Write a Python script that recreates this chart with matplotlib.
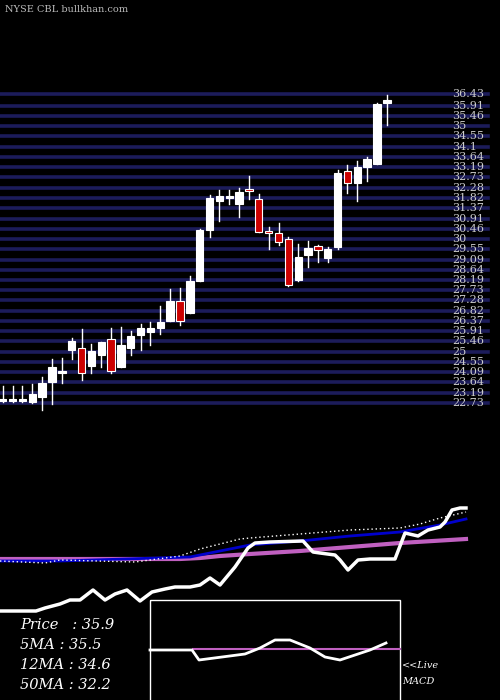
import matplotlib
matplotlib.use("Agg")
import matplotlib.pyplot as plt
import numpy as np

opens  = [22.82,22.82,22.82,22.77,23.00,23.66,24.06,25.08,25.17,24.37,24.86,25.57,24.33,25.17,25.74,25.88,26.06,26.37,27.25,26.72,
          28.14,30.40,31.69,31.82,31.55,32.22,31.78,30.36,30.27,30.00,28.18,29.29,29.69,29.16,29.65,33.02,32.48,33.19,33.33,36.03]
highs  = [23.48,23.48,23.48,23.57,23.88,24.68,24.73,25.61,26.01,25.35,25.43,26.06,26.10,25.92,26.23,26.32,27.03,27.78,27.83,28.36,
          30.45,31.95,32.17,32.17,32.27,32.80,32.00,30.53,30.71,30.09,29.78,29.91,29.74,29.65,33.06,33.28,33.46,33.64,36.03,36.39]
lows   = [22.77,22.77,22.77,22.73,22.42,22.69,23.62,24.68,23.75,24.06,24.33,24.06,24.33,24.86,25.08,25.30,25.79,26.37,26.19,26.72,
          28.14,30.09,30.80,31.55,30.98,31.78,30.31,29.56,29.74,27.92,28.14,28.76,28.98,28.98,29.56,32.04,31.69,32.57,33.33,35.06]
closes = [22.91,22.91,22.91,23.13,23.62,24.33,24.15,25.48,24.06,25.04,25.43,24.15,25.30,25.70,26.06,26.06,26.32,27.25,26.37,28.14,
          30.40,31.82,31.91,31.91,32.09,32.13,30.31,30.27,29.87,27.96,29.20,29.60,29.51,29.56,32.93,32.48,33.19,33.55,35.99,36.16]

price_levels = [36.43,35.91,35.46,35,34.55,34.1,33.64,33.19,32.73,32.28,31.82,31.37,30.91,30.46,30,29.55,29.09,28.64,28.19,
                27.73,27.28,26.82,26.37,25.91,25.46,25,24.55,24.09,23.64,23.19,22.73]

# lower panel series (indicator scale, inverted)
ma_x      = [0,36,45,60,70,80,93,105,115,127,140,152,165,175,190,200,210,220,235,248,255,270,303,313,320,335,340,348,358,370,395,405,418,428,440,445,452,460,466]
price_ln  = [611,611,608,604,600,600,590,600,594,590,601,592,589,587,587,585,578,585,567,548,543,542,541,552,553,555,560,570,560,559,559,533,536,530,527,522,510,508,508]
ma50_x = [0,180,200,220,250,300,350,400,466]
ma50   = [559,559,558,556,554,551,547,543,539]
ma12_x = [0,60,190,210,230,250,300,350,400,440,466]
ma12   = [561,561,557,553,549,545,541,536,532,525,519]
ma5_x  = [0,45,60,135,180,200,220,240,250,300,350,400,420,440,466]
ma5    = [561,563,560,562,556,549,544,539,538,534,530,528,524,518,512]
macd_x = [150,192,199,245,260,275,290,310,325,340,355,370,386]
macd   = [650,650,660,654,648,640,640,648,657,660,655,650,643]

fig = plt.figure(figsize=(5,7), dpi=100, facecolor="black")
ax = fig.add_axes([0,0,1,1], facecolor="black")
ax.set_xlim(0,500)
y_per = (36.43-22.73)/(403-94)
ax.set_ylim(22.73-(700-403)*y_per, 22.73+403*y_per)
ax.axis("off")

for p in price_levels:
    ax.axhline(p, xmin=0, xmax=0.975, color="#1c1c5a", lw=2.6, zorder=1)
    ax.text(452, p, f"{p:g}", color="#cccccc", fontsize=8, va="center", ha="left",
            family="DejaVu Serif", zorder=3)

xs = np.arange(len(opens))*9.85+2.7
for x,o,h,l,c in zip(xs,opens,highs,lows,closes):
    red = c < o
    ax.plot([x,x],[l,h], color="white", lw=1, zorder=4)
    lo, hi = min(o,c), max(o,c)
    hgt = max(hi-lo, 0.06)
    ax.add_patch(plt.Rectangle((x-3.7, lo), 7.4, hgt, facecolor="#cc0000" if red else "white",
                               edgecolor="white", lw=0.8, zorder=5))

ax.text(5, 22.73+(403-10)*y_per, "NYSE CBL bullkhan.com", color="#bbbbbb", fontsize=7,
        family="DejaVu Serif", va="center")

# lower panel in pixel coordinates
ax2 = fig.add_axes([0,0,1,1], facecolor="none")
ax2.set_xlim(0,500); ax2.set_ylim(700,0); ax2.axis("off")
ax2.plot(ma50_x, ma50, color="#c060c0", lw=3)
ax2.plot(ma12_x, ma12, color="#0000cc", lw=2)
ax2.plot(ma5_x, ma5, color="white", lw=1, ls=(0,(1,2)))
ax2.plot(ma_x, price_ln, color="white", lw=2.5)

ax2.add_patch(plt.Rectangle((150,600),250,110, facecolor="none", edgecolor="white", lw=1))
ax2.plot([193,400],[649,649], color="#c060c0", lw=1.5)
ax2.plot(macd_x, macd, color="white", lw=2)

for i,t in enumerate(["Price   : 35.9","5MA : 35.5","12MA : 34.6","50MA : 32.2"]):
    ax2.text(20, 625+i*20, t, color="white", fontsize=10.5, style="italic", family="DejaVu Serif", va="center")
ax2.text(402, 666, "<<Live", color="white", fontsize=7, style="italic", family="DejaVu Serif", va="center")
ax2.text(402, 681, "MACD", color="white", fontsize=7, style="italic", family="DejaVu Serif", va="center")

fig.savefig("out.png", dpi=100, facecolor="black")
